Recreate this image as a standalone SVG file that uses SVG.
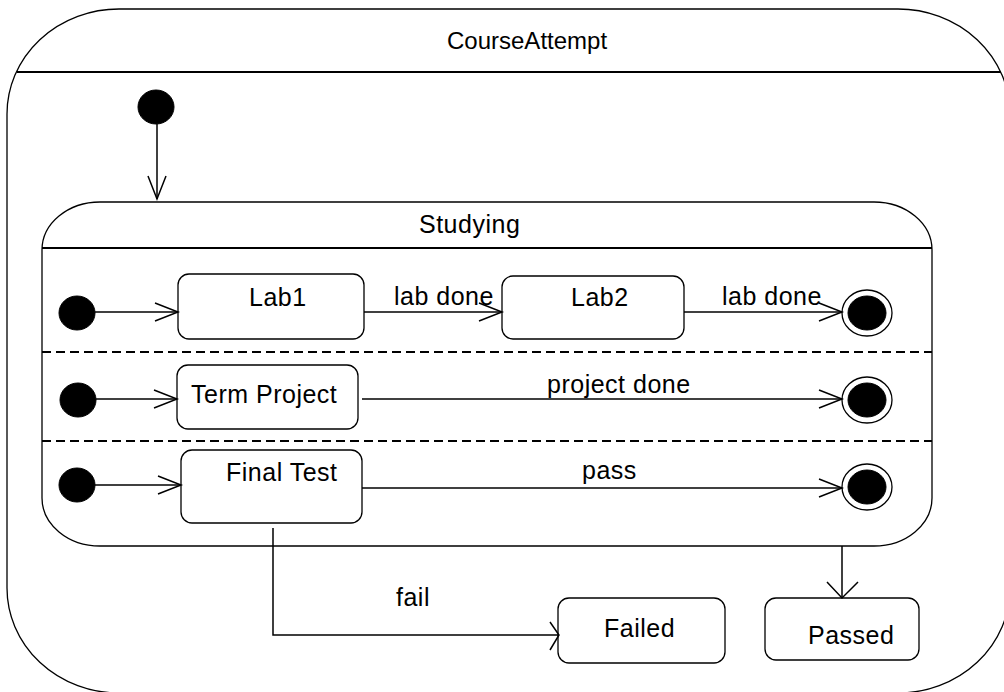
<svg xmlns="http://www.w3.org/2000/svg" width="1004" height="692" viewBox="0 0 1004 692">
  <style>
    .box { fill: #ffffff; stroke: #000000; stroke-width: 1.3; }
    .div { stroke: #000000; stroke-width: 2.2; fill: none; }
    .dash { stroke: #000000; stroke-width: 2; stroke-dasharray: 9 5; fill: none; }
    .ln { stroke: #000000; stroke-width: 1.5; fill: none; }
    .dot { fill: #000000; stroke: #000000; stroke-width: 1; }
    .ring { fill: #ffffff; stroke: #000000; stroke-width: 1.3; }
    .t { font-family: "Liberation Sans", Arial, sans-serif; font-size: 25px; letter-spacing: 0.5px; fill: #000000; }
    .title { font-family: "Liberation Sans", Arial, sans-serif; font-size: 24px; fill: #000000; }
  </style>
  <defs>
    <marker id="open" markerUnits="userSpaceOnUse" markerWidth="30" markerHeight="24" refX="23" refY="9" orient="auto" overflow="visible">
      <path d="M0,0 L23,9 L0,18" fill="none" stroke="#000000" stroke-width="1.5"/>
    </marker>
  </defs>
  <rect width="1004" height="692" fill="#ffffff"/>

  <g id="CourseAttempt">
    <rect class="box" x="7" y="9" width="1003" height="684" rx="112" ry="105"/>
    <line class="div" x1="17" y1="72" x2="1001" y2="72"/>
    <text class="title" x="447" y="49">CourseAttempt</text>
  </g>

  <g id="init-top">
    <ellipse class="dot" cx="156" cy="107" rx="18" ry="17"/>
  </g>

  <g id="Studying">
    <rect class="box" x="42" y="202" width="890" height="344" rx="58" ry="48"/>
    <line class="div" x1="42" y1="248" x2="932" y2="248"/>
    <line class="dash" x1="42" y1="352" x2="932" y2="352"/>
    <line class="dash" x1="42" y1="441" x2="932" y2="441"/>
    <text class="t" x="419" y="233">Studying</text>
  </g>

  <g id="init-1"><ellipse class="dot" cx="77" cy="313" rx="18" ry="17"/></g>
  <g id="init-2"><ellipse class="dot" cx="78" cy="400" rx="18" ry="17"/></g>
  <g id="init-3"><ellipse class="dot" cx="77" cy="485" rx="18" ry="17"/></g>

  <g id="Lab1">
    <rect class="box" x="178" y="274" width="186" height="65" rx="11" ry="11"/>
    <text class="t" x="249" y="306">Lab1</text>
  </g>
  <g id="Lab2">
    <rect class="box" x="502" y="276" width="182" height="63" rx="11" ry="11"/>
    <text class="t" x="571" y="306">Lab2</text>
  </g>
  <g id="TermProject">
    <rect class="box" x="177" y="365" width="181" height="64" rx="11" ry="11"/>
    <text class="t" x="191" y="403">Term Project</text>
  </g>
  <g id="FinalTest">
    <rect class="box" x="181" y="450" width="181" height="73" rx="11" ry="11"/>
    <text class="t" x="226" y="481">Final Test</text>
  </g>

  <g id="final-1">
    <ellipse class="ring" cx="867" cy="313" rx="25" ry="23"/>
    <ellipse class="dot" cx="867" cy="313" rx="19" ry="17"/>
  </g>
  <g id="final-2">
    <ellipse class="ring" cx="867" cy="400" rx="25" ry="23"/>
    <ellipse class="dot" cx="867" cy="400" rx="19" ry="17"/>
  </g>
  <g id="final-3">
    <ellipse class="ring" cx="867" cy="487" rx="25" ry="23"/>
    <ellipse class="dot" cx="867" cy="487" rx="19" ry="17"/>
  </g>

  <g id="Failed">
    <rect class="box" x="558" y="598" width="167" height="65" rx="11" ry="11"/>
    <text class="t" x="604" y="637">Failed</text>
  </g>
  <g id="Passed">
    <rect class="box" x="765" y="598" width="154" height="62" rx="11" ry="11"/>
    <text class="t" x="808" y="644">Passed</text>
  </g>

  <g id="connectors">
    <line class="ln" x1="157" y1="124" x2="157" y2="199" marker-end="url(#open)"/>
    <line class="ln" x1="95" y1="312" x2="178" y2="312" marker-end="url(#open)"/>
    <line class="ln" x1="364" y1="312" x2="502" y2="312" marker-end="url(#open)"/>
    <line class="ln" x1="684" y1="312" x2="842" y2="312" marker-end="url(#open)"/>
    <line class="ln" x1="96" y1="399" x2="177" y2="399" marker-end="url(#open)"/>
    <line class="ln" x1="362" y1="399" x2="842" y2="399" marker-end="url(#open)"/>
    <line class="ln" x1="95" y1="485" x2="181" y2="485" marker-end="url(#open)"/>
    <line class="ln" x1="362" y1="488" x2="842" y2="488" marker-end="url(#open)"/>
    <polyline class="ln" points="273,528 273,635 558,635"/>
    <polyline class="ln" points="550,622 559,635 550,650"/>
    <line class="ln" x1="842" y1="546" x2="842" y2="598"/>
    <polyline class="ln" points="827,582 842,598 858,582"/>
    <text class="t" x="394" y="305">lab done</text>
    <text class="t" x="722" y="305">lab done</text>
    <text class="t" x="547" y="393">project done</text>
    <text class="t" x="582" y="479">pass</text>
    <text class="t" x="396" y="606">fail</text>
  </g>
</svg>
